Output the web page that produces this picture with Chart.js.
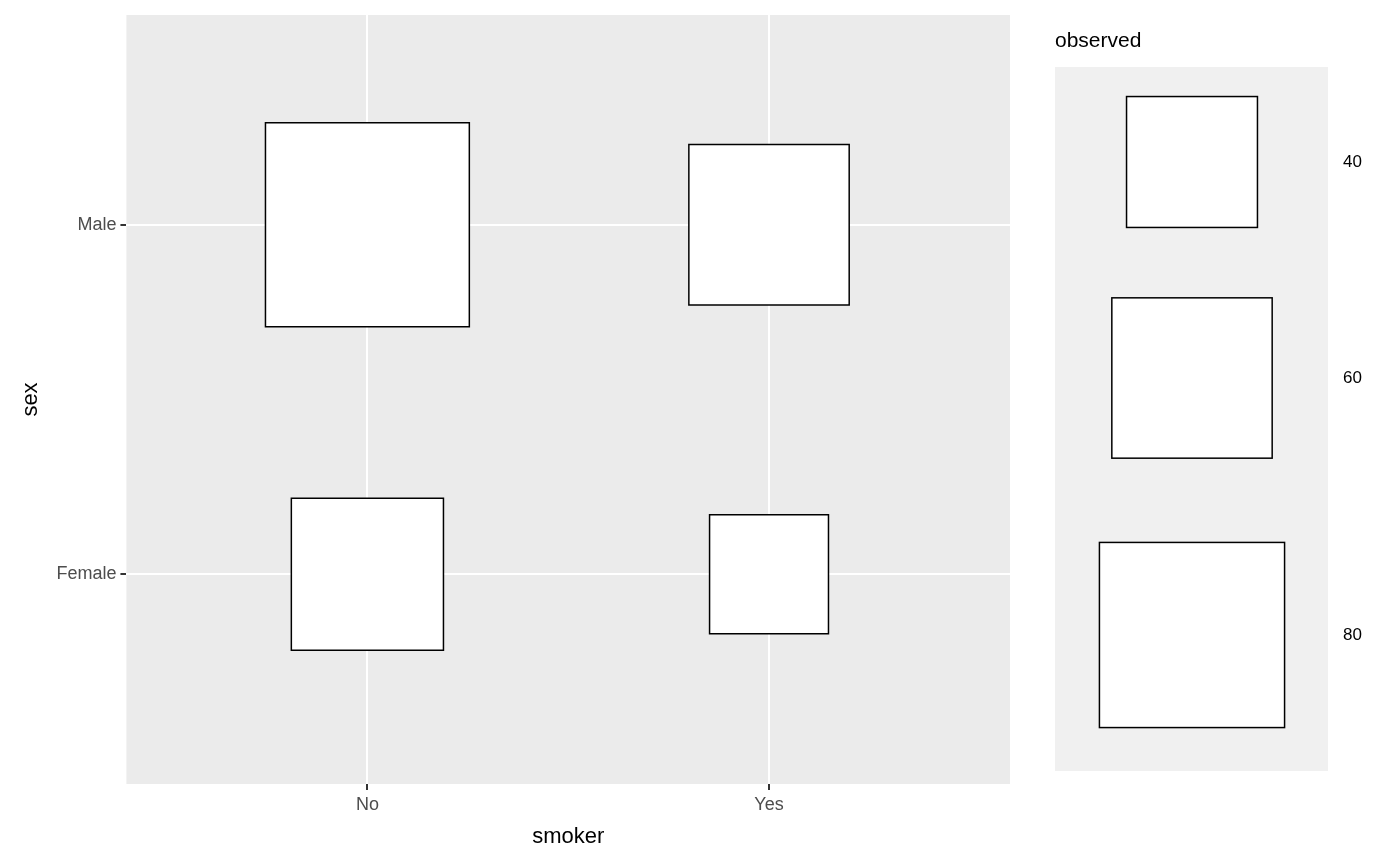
<!DOCTYPE html>
<html><head><meta charset="utf-8">
<script src="https://cdn.jsdelivr.net/npm/chart.js@4"></script>
<style>html,body{margin:0;padding:0;background:#fff}#w{width:1400px;height:866px}</style>
</head><body><div id="w"><canvas id="c"></canvas></div>
<script>
const smoker = ["No", "Yes"];
const sex = ["Female", "Male"];
const cellSmoker = ["No", "Yes", "No", "Yes"];
const cellSex = ["Male", "Male", "Female", "Female"];
const observed = [97, 60, 54, 33];
const legendValues = [40, 60, 80];
const SIZE_K = 20.7; // px side per sqrt(count)

const pts = observed.map((v,i)=>({x: smoker.indexOf(cellSmoker[i])+1, y: sex.indexOf(cellSex[i])+1, v}));
const radiusFor = v => SIZE_K*Math.sqrt(v)/Math.SQRT2;

const bgPlugin = {
  id:'bg',
  beforeDraw(chart){
    const {ctx, chartArea:a} = chart;
    ctx.save(); ctx.fillStyle='#EBEBEB'; ctx.fillRect(a.left,a.top,a.right-a.left,a.bottom-a.top); ctx.restore();
  },
  afterDraw(chart){
    const ctx = chart.ctx;
    ctx.save();
    ctx.font = '21px "Liberation Sans", Arial, sans-serif';
    ctx.fillStyle='#000'; ctx.textBaseline='alphabetic'; ctx.textAlign='left';
    ctx.fillText('observed', 1055, 47);
    ctx.fillStyle='#F0F0F0'; ctx.fillRect(1055,67,273,704);
    const ys=[162,378,635];
    legendValues.forEach((v,i)=>{
      const s = SIZE_K*Math.sqrt(v);
      ctx.fillStyle='#fff'; ctx.strokeStyle='#000'; ctx.lineWidth=1.5;
      ctx.fillRect(1192-s/2, ys[i]-s/2, s, s);
      ctx.strokeRect(1192-s/2, ys[i]-s/2, s, s);
      ctx.fillStyle='#000'; ctx.font='17px "Liberation Sans", Arial, sans-serif';
      ctx.textBaseline='middle';
      ctx.fillText(String(v), 1343, ys[i]);
    });
    ctx.restore();
  }
};

const tickFont = {family:'"Liberation Sans", Arial, sans-serif', size:18};
const titleFont = {family:'"Liberation Sans", Arial, sans-serif', size:22};

new Chart(document.getElementById('c'), {
  type:'scatter',
  data:{datasets:[{
    data: pts,
    pointStyle:'rect',
    pointRadius: ctx => radiusFor(ctx.raw.v),
    pointHoverRadius: ctx => radiusFor(ctx.raw.v),
    backgroundColor:'#fff', borderColor:'#000', borderWidth:1.5
  }]},
  options:{
    responsive:true, maintainAspectRatio:false, animation:false,
    layout:{autoPadding:false, padding:{left:14,right:390,top:15,bottom:12}},
    plugins:{legend:{display:false}, tooltip:{enabled:false}},
    scales:{
      x:{type:'linear', min:0.4, max:2.6,
        afterBuildTicks: s=>{s.ticks=[{value:1},{value:2}];},
        ticks:{callback:v=>smoker[v-1], color:'#4D4D4D', font:tickFont, padding:4},
        grid:{color:'#fff', lineWidth:2, tickColor:'#333', tickLength:6},
        border:{display:false},
        title:{display:true, text:'smoker', color:'#000', font:titleFont, padding:{top:4}}
      },
      y:{type:'linear', min:0.4, max:2.6,
        afterBuildTicks: s=>{s.ticks=[{value:1},{value:2}];},
        ticks:{callback:v=>sex[v-1], color:'#4D4D4D', font:tickFont, padding:4},
        grid:{color:'#fff', lineWidth:2, tickColor:'#333', tickLength:6},
        border:{display:false},
        title:{display:true, text:'sex', color:'#000', font:titleFont, padding:{bottom:8}}
      }
    }
  },
  plugins:[bgPlugin]
});
</script></body></html>
